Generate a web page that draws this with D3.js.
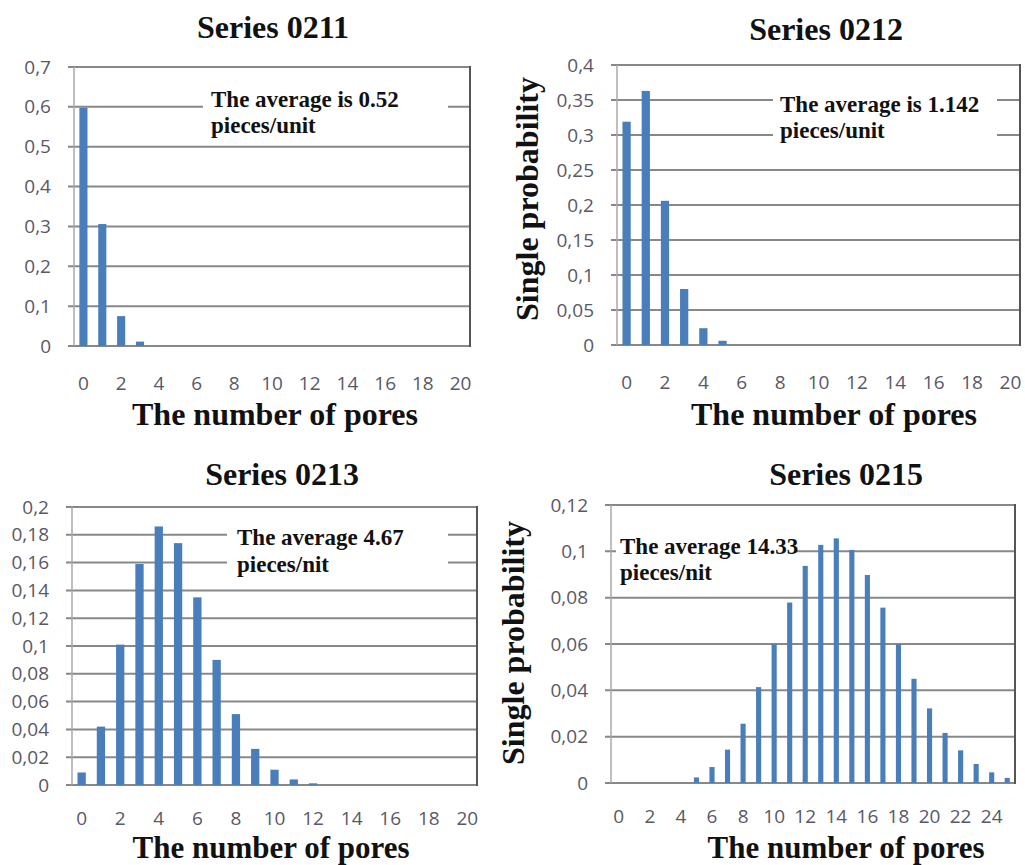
<!DOCTYPE html>
<html>
<head>
<meta charset="utf-8">
<script src="https://cdn.jsdelivr.net/npm/d3@7"></script>
<style>
  html, body { margin: 0; padding: 0; background: #fff; }
  svg { display: block; }
  .tick text { font-family: "Open Sans", sans-serif; font-size: 19px; fill: #5a5866; }
  .big { font-family: "Liberation Serif", "Times New Roman", serif; font-weight: bold; font-size: 32px; fill: #111; }
  .note { font-family: "Liberation Serif", "Times New Roman", serif; font-weight: bold; font-size: 23px; fill: #111; }
</style>
</head>
<body>
<svg id="chart" width="1025" height="865"></svg>
<script>
// pore counts on the x axis
const pores20 = [0, 1, 2, 3, 4, 5, 6, 7, 8, 9, 10, 11, 12, 13, 14, 15, 16, 17, 18, 19, 20];
const pores25 = [0, 1, 2, 3, 4, 5, 6, 7, 8, 9, 10, 11, 12, 13, 14, 15, 16, 17, 18, 19, 20, 21, 22, 23, 24, 25];

// single probabilities
const probs0211 = [0.598, 0.306, 0.075, 0.011, 0, 0, 0, 0, 0, 0, 0, 0, 0, 0, 0, 0, 0, 0, 0, 0, 0];
const probs0212 = [0.319, 0.363, 0.206, 0.080, 0.024, 0.006, 0, 0, 0, 0, 0, 0, 0, 0, 0, 0, 0, 0, 0, 0, 0];
const probs0213 = [0.009, 0.042, 0.101, 0.159, 0.186, 0.174, 0.135, 0.090, 0.051, 0.026, 0.011, 0.004, 0.0012, 0, 0, 0, 0, 0, 0, 0, 0];
const probs0215 = [0, 0, 0, 0, 0, 0.0024, 0.0069, 0.0144, 0.0256, 0.0414, 0.0599, 0.0779, 0.0937, 0.1028, 0.1056, 0.1006, 0.0898, 0.0757, 0.0599, 0.045, 0.0322, 0.0216, 0.0141, 0.0082, 0.0046, 0.0022];

// tick labels
const yTicks0211 = [0, 0.1, 0.2, 0.3, 0.4, 0.5, 0.6, 0.7];
const yTicks0212 = [0, 0.05, 0.1, 0.15, 0.2, 0.25, 0.3, 0.35, 0.4];
const yTicks0213 = [0, 0.02, 0.04, 0.06, 0.08, 0.1, 0.12, 0.14, 0.16, 0.18, 0.2];
const yTicks0215 = [0, 0.02, 0.04, 0.06, 0.08, 0.1, 0.12];
const xTicks20 = [0, 2, 4, 6, 8, 10, 12, 14, 16, 18, 20];
const xTicks24 = [0, 2, 4, 6, 8, 10, 12, 14, 16, 18, 20, 22, 24];

// texts
const titles = ["Series 0211", "Series 0212", "Series 0213", "Series 0215"];
const notes = [
  ["The average is 0.52", "pieces/unit"],
  ["The average is 1.142", "pieces/unit"],
  ["The average 4.67", "pieces/nit"],
  ["The average 14.33", "pieces/nit"]
];
const xTitle = "The number of pores";
const yTitle = "Single probability";

const panels = [
  { cats: pores20, vals: probs0211, yTicks: yTicks0211, xTicks: xTicks20,
    box: { l: 74, r: 470, t: 67, b: 346 }, pad: 0.57, xPad: 31,
    title: [273, 38], xt: [275, 425, 32], yt: null,
    noteBox: [203, 82, 245, 58], noteX: 211, noteY: [106.5, 133] },
  { cats: pores20, vals: probs0212, yTicks: yTicks0212, xTicks: xTicks20,
    box: { l: 617, r: 1020, t: 65, b: 345 }, pad: 0.57, xPad: 31,
    title: [826, 40], xt: [834, 425, 32], yt: [538, 199],
    noteBox: [773, 78, 224, 70], noteX: 780, noteY: [111.5, 138] },
  { cats: pores20, vals: probs0213, yTicks: yTicks0213, xTicks: xTicks20,
    box: { l: 72, r: 477, t: 507, b: 785 }, pad: 0.57, xPad: 27,
    title: [282, 485], xt: [271, 858, 31], yt: null,
    noteBox: [227, 517, 221, 62], noteX: 237, noteY: [545, 572] },
  { cats: pores25, vals: probs0215, yTicks: yTicks0215, xTicks: xTicks24,
    box: { l: 611, r: 1015, t: 505, b: 783 }, pad: 0.67, xPad: 27,
    title: [846, 485], xt: [846, 858, 31], yt: [524, 643],
    noteBox: [616, 528, 181, 60], noteX: 620, noteY: [554, 580] }
];

const svg = d3.select("#chart");
const fmt = d => (d === 0 ? "0" : String(+d.toFixed(4)).replace(".", ","));

panels.forEach((p, i) => {
  const { l, r, t, b } = p.box;
  const g = svg.append("g");

  const x = d3.scaleBand()
    .domain(p.cats)
    .range([l, r])
    .paddingInner(p.pad)
    .paddingOuter(p.pad / 2);

  const y = d3.scaleLinear()
    .domain([0, d3.max(p.yTicks)])
    .range([b, t]);

  // gridlines (including the tick stubs on the left)
  g.selectAll("line.grid")
    .data(p.yTicks)
    .enter()
    .append("line")
    .attr("class", "grid")
    .attr("x1", l - 6)
    .attr("x2", r)
    .attr("y1", d => y(d))
    .attr("y2", d => y(d))
    .attr("stroke", "#888")
    .attr("stroke-width", 2);

  // bars
  g.selectAll("rect.bar")
    .data(p.cats.map((c, k) => ({ c, v: p.vals[k] })))
    .enter()
    .append("rect")
    .attr("class", "bar")
    .attr("x", d => x(d.c))
    .attr("width", x.bandwidth())
    .attr("y", d => y(d.v))
    .attr("height", d => b - y(d.v))
    .attr("fill", "#4a7ebb");

  // note box with its white background
  const [nx, ny, nw, nh] = p.noteBox;
  g.append("rect")
    .attr("x", nx).attr("y", ny)
    .attr("width", nw).attr("height", nh)
    .attr("fill", "#fff");
  notes[i].forEach((line, k) => {
    g.append("text")
      .attr("class", "note")
      .attr("x", p.noteX)
      .attr("y", p.noteY[k])
      .text(line);
  });

  // left axis line and right border
  g.append("line")
    .attr("x1", l).attr("x2", l).attr("y1", t).attr("y2", b)
    .attr("stroke", "#a8a8a8").attr("stroke-width", 1.5);
  g.append("line")
    .attr("x1", r).attr("x2", r).attr("y1", t - 1).attr("y2", b + 1)
    .attr("stroke", "#555").attr("stroke-width", 2);

  // y tick labels
  const yAxis = g.append("g")
    .attr("transform", `translate(${l},0)`)
    .call(d3.axisLeft(y).tickValues(p.yTicks).tickFormat(fmt).tickSize(0).tickPadding(23));
  yAxis.select(".domain").remove();

  // x tick labels
  const xAxis = g.append("g")
    .attr("transform", `translate(0,${b})`)
    .call(d3.axisBottom(x).tickValues(p.xTicks).tickSize(0).tickPadding(p.xPad));
  xAxis.select(".domain").remove();

  // titles
  g.append("text")
    .attr("class", "big")
    .attr("x", p.title[0]).attr("y", p.title[1])
    .attr("text-anchor", "middle")
    .text(titles[i]);

  g.append("text")
    .attr("class", "big")
    .attr("x", p.xt[0]).attr("y", p.xt[1])
    .attr("text-anchor", "middle")
    .style("font-size", p.xt[2] + "px")
    .text(xTitle);

  if (p.yt) {
    g.append("text")
      .attr("class", "big")
      .attr("transform", `translate(${p.yt[0]},${p.yt[1]}) rotate(-90)`)
      .attr("text-anchor", "middle")
      .text(yTitle);
  }
});
</script>
</body>
</html>
